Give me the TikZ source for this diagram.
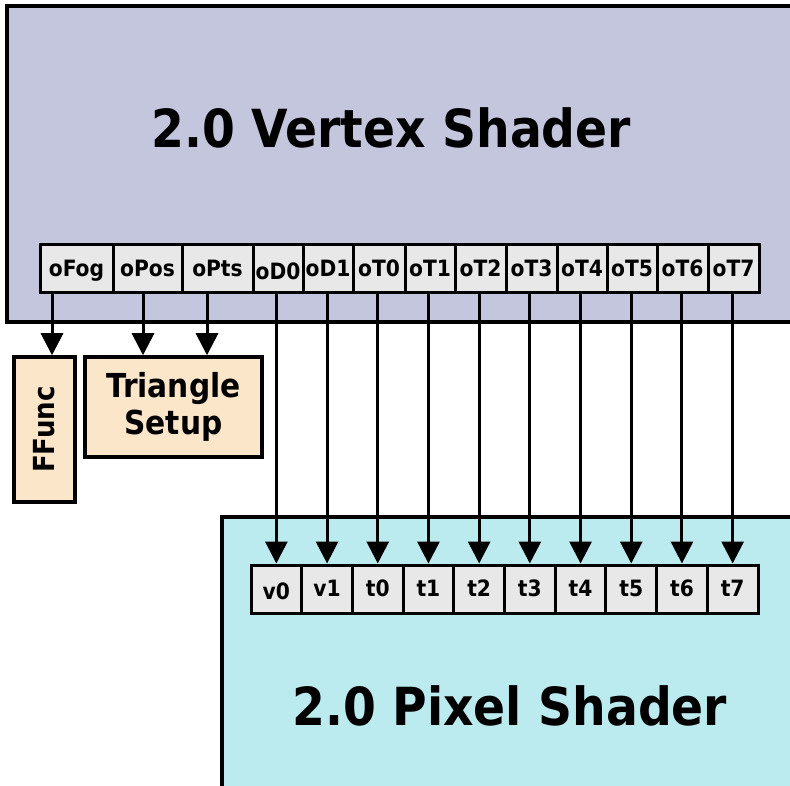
\documentclass[tikz,border=0pt]{standalone}
\usepackage{fontspec}
\setmainfont{DejaVu Sans Condensed}
\usetikzlibrary{arrows.meta}
\definecolor{vsfill}{HTML}{C4C6DD}
\definecolor{psfill}{HTML}{BCEBEF}
\definecolor{cellgray}{HTML}{E8E8E8}
\definecolor{unitfill}{HTML}{FCE6C9}
\tikzset{
  shaderbox/.style={draw=black, line width=3.5pt},
  cell/.style={draw=black, line width=3pt, fill=cellgray, minimum height=48pt,
    inner sep=0pt, text height=20pt, text depth=4.6pt,
    font=\bfseries\fontsize{22.5}{22.5}\selectfont},
  lowcell/.style={text height=23pt, text depth=2.2pt},
  unitbox/.style={draw=black, line width=3.5pt, fill=unitfill, inner sep=0pt},
  arr/.style={line width=3pt, -{Triangle[length=22pt,width=22pt]}},
  title/.style={font=\bfseries\fontsize{52.5}{52.5}\selectfont, inner sep=0pt, anchor=base},
}
\begin{document}
\begin{tikzpicture}[x=1pt,y=-1pt]
\useasboundingbox (0,0) rectangle (790,786);
\clip (0,0) rectangle (790,786);
% shader boxes
\path[shaderbox, fill=vsfill] (7,6) rectangle (820,322);
\path[shaderbox, fill=psfill] (222,517) rectangle (820,820);
\node[title] (vstitle) at (391.5,147.3) {2.0 Vertex Shader};
\node[title] (pstitle) at (510,725) {2.0 Pixel Shader};
% vertex shader output registers
\node[cell, minimum width=73pt] (oFog) at (76.5,269) {oFog};
\node[cell, minimum width=69pt] (oPos) at (147.5,269) {oPos};
\node[cell, minimum width=71pt] (oPts) at (217.5,269) {oPts};
\node[cell, lowcell, minimum width=50pt] (oD0) at (278,269) {oD0};
\node[cell, minimum width=50pt] (oD1) at (328,269) {oD1};
\node[cell, minimum width=52pt] (oT0) at (379,269) {oT0};
\node[cell, minimum width=50pt] (oT1) at (430,269) {oT1};
\node[cell, minimum width=51pt] (oT2) at (480.5,269) {oT2};
\node[cell, minimum width=51pt] (oT3) at (531.5,269) {oT3};
\node[cell, minimum width=50pt] (oT4) at (582,269) {oT4};
\node[cell, minimum width=50pt] (oT5) at (632,269) {oT5};
\node[cell, minimum width=51pt] (oT6) at (682.5,269) {oT6};
\node[cell, minimum width=51pt] (oT7) at (733.5,269) {oT7};
% pixel shader input registers
\node[cell, lowcell, minimum width=50.7pt] (v0) at (276.35,589) {v0};
\foreach \n [count=\i from 1] in {v1,t0,t1,t2,t3,t4,t5,t6,t7}{
  \node[cell, minimum width=50.7pt] (\n) at ({276.35+50.7*\i},589) {\n};
}
% units
\node[unitbox, minimum width=61pt, minimum height=145pt] (FFunc) at (44.5,429.5) {};
\node[rotate=90, font=\bfseries\fontsize{29}{29}\selectfont, inner sep=0pt] (ffl) at (FFunc.center) {FFunc};
\node[unitbox, minimum width=177pt, minimum height=100pt, align=center,
  font=\bfseries\fontsize{33}{37}\selectfont] (TS) at (173.5,407) {Triangle\\Setup};
% arrows
\draw[arr] ([xshift=-24.5pt]oFog.south) -- ([xshift=-24.5pt]oFog.south |- FFunc.north);
\draw[arr] ([xshift=-4.5pt]oPos.south) -- ([xshift=-4.5pt]oPos.south |- TS.north);
\draw[arr] ([xshift=-10.5pt]oPts.south) -- ([xshift=-10.5pt]oPts.south |- TS.north);
\foreach \o/\p in {oD0/v0,oD1/v1,oT0/t0,oT1/t1,oT2/t2,oT3/t3,oT4/t4,oT5/t5,oT6/t6,oT7/t7}{
  \draw[arr] (\p.north |- \o.south) -- (\p.north);
}
\end{tikzpicture}
\end{document}
